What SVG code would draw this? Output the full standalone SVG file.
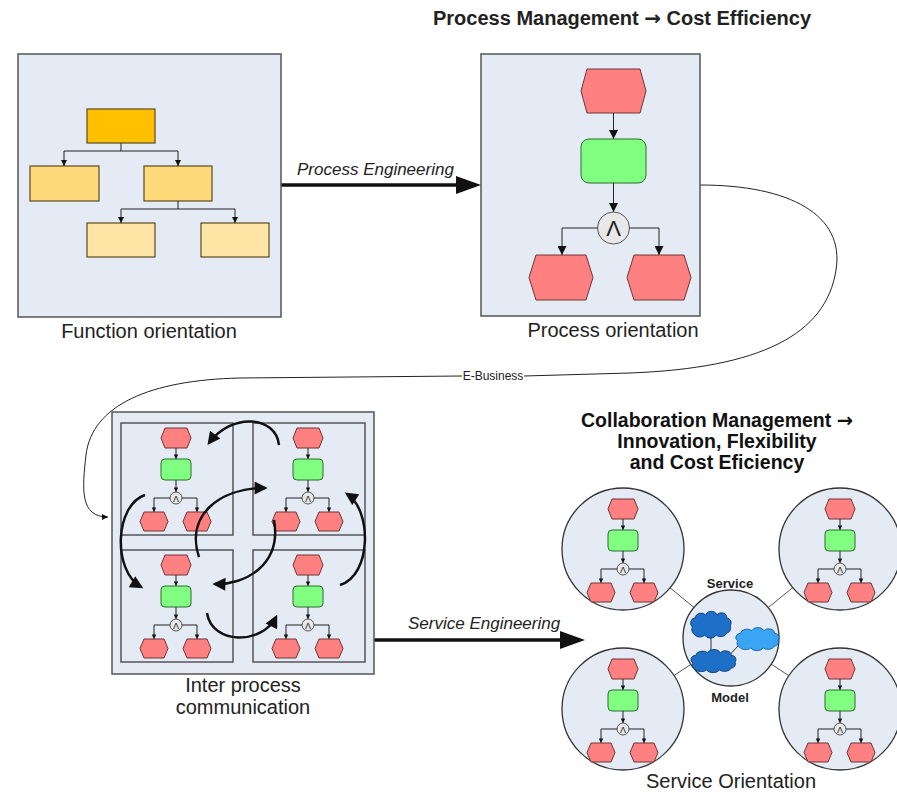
<svg xmlns="http://www.w3.org/2000/svg" width="897" height="803" viewBox="0 0 897 803">
<style>
text{font-family:"Liberation Sans",Arial,sans-serif;fill:#222}
.lbl{font-size:20px;text-anchor:middle}
.ttl{font-size:19.5px;font-weight:bold;text-anchor:middle;fill:#111}
.arr{font-family:"DejaVu Sans",sans-serif;font-weight:bold}
.it{font-size:17px;font-style:italic}
.panel{fill:#E4EBF5;stroke:#555;stroke-width:1.5}
.ev{fill:#FF8080;stroke:#6E3535;stroke-width:1}
.fn{fill:#80FF80;stroke:#2F6B2F;stroke-width:1}
.op{fill:#E8E8E8;stroke:#555;stroke-width:1}
.ln{fill:none;stroke:#222;stroke-width:1}
.thick{fill:none;stroke:#111;stroke-width:2.5}
.circ{fill:#E4EBF5;stroke:#333;stroke-width:1.3}
.org{stroke:#5A4A20;stroke-width:1.2}
.cloud{fill:#1E6FC8;stroke:#0B3D7A;stroke-width:1}
.cloud2{fill:#3AA5F5;stroke:#1560A8;stroke-width:1}
</style>
<defs>
<marker id="a-s" viewBox="0 0 10 10" refX="10" refY="5" markerUnits="userSpaceOnUse" markerWidth="5" markerHeight="4.5" orient="auto"><path d="M0,0 L10,5 L0,10 z" fill="#111"/></marker>
<marker id="a-m" viewBox="0 0 10 10" refX="10" refY="5" markerUnits="userSpaceOnUse" markerWidth="8" markerHeight="6" orient="auto"><path d="M0,0 L10,5 L0,10 z" fill="#111"/></marker>
<marker id="a-p" viewBox="0 0 10 10" refX="10" refY="5" markerUnits="userSpaceOnUse" markerWidth="13" markerHeight="9" orient="auto"><path d="M0,0 L10,5 L0,10 z" fill="#111"/></marker>
<marker id="a-b" viewBox="0 0 10 10" refX="8" refY="5" markerUnits="userSpaceOnUse" markerWidth="15" markerHeight="13" orient="auto"><path d="M0,0 L10,5 L0,10 z" fill="#111"/></marker>
<path id="cl" d="M5,14 a5,5 0 0 1 3,-9 a7,6 0 0 1 12,-3 a7,6 0 0 1 13,0 a6,5 0 0 1 11,3 a5,5 0 0 1 4,8 a5,5 0 0 1 -4,7 a7,5 0 0 1 -12,2 a7,5 0 0 1 -13,0 a7,5 0 0 1 -12,-1 a5,5 0 0 1 -2,-7 z"/>
<g id="mini">
<polygon class="ev" points="40,15 44,5 66,5 70,15 66,25 44,25"/>
<line class="ln" x1="55" y1="25" x2="55" y2="36" marker-end="url(#a-s)"/>
<rect class="fn" x="40" y="36" width="30" height="21" rx="4"/>
<line class="ln" x1="55" y1="57" x2="55" y2="69" marker-end="url(#a-s)"/>
<circle class="op" cx="55" cy="75" r="6"/>
<text x="55" y="78.5" font-size="9" text-anchor="middle">Λ</text>
<polyline class="ln" points="49,75 33,75 33,89" marker-end="url(#a-s)"/>
<polyline class="ln" points="61,75 76,75 76,89" marker-end="url(#a-s)"/>
<polygon class="ev" points="19,98.5 23,89 43,89 47,98.5 43,108 23,108"/>
<polygon class="ev" points="62,98.5 66,89 86,89 90,98.5 86,108 66,108"/>
</g>
</defs>
<rect width="897" height="803" fill="#fff"/>

<text id="title1" x="433" y="25" font-size="20" font-weight="bold" fill="#111">Process Management <tspan class="arr">→</tspan> Cost Efficiency</text>
<g id="title2">
<text class="ttl" x="717" y="427">Collaboration Management <tspan class="arr">→</tspan></text>
<text class="ttl" x="717" y="448">Innovation, Flexibility</text>
<text class="ttl" x="717" y="469">and Cost Eficiency</text>
</g>

<g id="connectors">
<line x1="281" y1="185" x2="460" y2="185" stroke="#111" stroke-width="3.5"/>
<polygon points="456,176 481,185 456,194" fill="#111"/>
<text class="it" x="297" y="175">Process Engineering</text>
<path class="ln" d="M700,185 C790,185 845,215 836,270 C826,335 760,368 630,373 L524,376"/>
<path class="ln" d="M462,376 L240,378 C150,380 92,405 86,455 C82,490 80,517 108,517" marker-end="url(#a-m)"/>
<text x="493" y="380" font-size="12" text-anchor="middle">E-Business</text>
<line x1="374" y1="640" x2="562" y2="640" stroke="#111" stroke-width="3.5"/>
<polygon points="560,631 585,640 560,649" fill="#111"/>
<text class="it" x="408" y="629">Service Engineering</text>
<g stroke="#555" stroke-width="1">
<line x1="731" y1="638" x2="623" y2="549"/>
<line x1="731" y1="638" x2="840" y2="549"/>
<line x1="731" y1="638" x2="623" y2="709"/>
<line x1="731" y1="638" x2="840" y2="709"/>
</g>
</g>

<g id="n-function">
<rect class="panel" x="18" y="54" width="263" height="263"/>
<rect class="org" x="87" y="109" width="68" height="34" fill="#FFC000"/>
<rect class="org" x="30" y="166" width="69" height="35" fill="#FFD97A"/>
<rect class="org" x="144" y="166" width="68" height="35" fill="#FFD97A"/>
<rect class="org" x="87" y="223" width="68" height="34" fill="#FFE5A5"/>
<rect class="org" x="201" y="223" width="68" height="34" fill="#FFE5A5"/>
<polyline class="ln" points="121,143 121,151"/>
<polyline class="ln" points="121,151 64,151 64,166" marker-end="url(#a-m)"/>
<polyline class="ln" points="121,151 178,151 178,166" marker-end="url(#a-m)"/>
<polyline class="ln" points="178,201 178,209"/>
<polyline class="ln" points="178,209 121,209 121,223" marker-end="url(#a-m)"/>
<polyline class="ln" points="178,209 235,209 235,223" marker-end="url(#a-m)"/>
<text class="lbl" x="149" y="338">Function orientation</text>
</g>

<g id="n-process">
<rect class="panel" x="481" y="54" width="219" height="262"/>
<polygon class="ev" points="581,91 587,69 640,69 646,91 640,113 587,113"/>
<line class="ln" x1="613.5" y1="113" x2="613.5" y2="139" marker-end="url(#a-p)"/>
<rect class="fn" x="581" y="139" width="65" height="44" rx="8"/>
<line class="ln" x1="613.5" y1="183" x2="613.5" y2="212" marker-end="url(#a-p)"/>
<circle class="op" cx="613.5" cy="228" r="16"/>
<text x="613.5" y="236" font-size="22" text-anchor="middle">Λ</text>
<polyline class="ln" points="597.5,228 562,228 562,255" marker-end="url(#a-p)"/>
<polyline class="ln" points="629.5,228 659,228 659,255" marker-end="url(#a-p)"/>
<polygon class="ev" points="529,277.5 536,255 586,255 593,277.5 586,300 536,300"/>
<polygon class="ev" points="627,277.5 634,255 684,255 691,277.5 684,300 634,300"/>
<text class="lbl" x="613" y="337">Process orientation</text>
</g>

<g id="n-inter">
<rect class="panel" x="112" y="412" width="262" height="262"/>
<rect class="panel" x="121" y="423" width="112" height="112"/>
<rect class="panel" x="253" y="423" width="112" height="112"/>
<rect class="panel" x="121" y="550" width="112" height="112"/>
<rect class="panel" x="253" y="550" width="112" height="112"/>
<use href="#mini" x="121" y="423"/>
<use href="#mini" x="253" y="423"/>
<use href="#mini" x="121" y="550"/>
<use href="#mini" x="253" y="550"/>
<g id="inter-flows">
<path class="thick" d="M279,445 C276,416 232,412 209,443" marker-end="url(#a-b)"/>
<path class="thick" d="M145,495 C115,505 112,570 141,587" marker-end="url(#a-b)"/>
<path class="thick" d="M207,613 C212,645 262,645 276,617" marker-end="url(#a-b)"/>
<path class="thick" d="M340,585 C372,575 372,510 347,494" marker-end="url(#a-b)"/>
<path class="thick" d="M199,557 C185,515 220,488 265,488" marker-end="url(#a-b)"/>
<path class="thick" d="M274,520 C282,565 245,585 215,584" marker-end="url(#a-b)"/>
</g>
<text class="lbl" x="243" y="692">Inter process</text>
<text class="lbl" x="243" y="714">communication</text>
</g>

<g id="n-svc-tl"><circle class="circ" cx="623" cy="549" r="61"/><use href="#mini" x="568" y="494"/></g>
<g id="n-svc-tr"><circle class="circ" cx="840" cy="549" r="61"/><use href="#mini" x="785" y="494"/></g>
<g id="n-svc-bl"><circle class="circ" cx="623" cy="709" r="61"/><use href="#mini" x="568" y="654"/></g>
<g id="n-svc-br"><circle class="circ" cx="840" cy="709" r="61"/><use href="#mini" x="785" y="654"/></g>

<g id="n-model">
<circle class="circ" cx="731" cy="638" r="48"/>
<line x1="711" y1="634" x2="711" y2="654" stroke="#333" stroke-width="1"/>
<line x1="726" y1="659" x2="738" y2="646" stroke="#333" stroke-width="1"/>
<use href="#cl" class="cloud" transform="translate(688,613) scale(0.88,1)"/>
<use href="#cl" class="cloud2" transform="translate(733,629) scale(0.94,0.86)"/>
<use href="#cl" class="cloud" transform="translate(688,651) scale(0.98,0.86)"/>
<text x="730" y="588" font-size="13" font-weight="bold" text-anchor="middle">Service</text>
<text x="730" y="702" font-size="13" font-weight="bold" text-anchor="middle">Model</text>
</g>
<text class="lbl" x="731" y="788">Service Orientation</text>
</svg>
